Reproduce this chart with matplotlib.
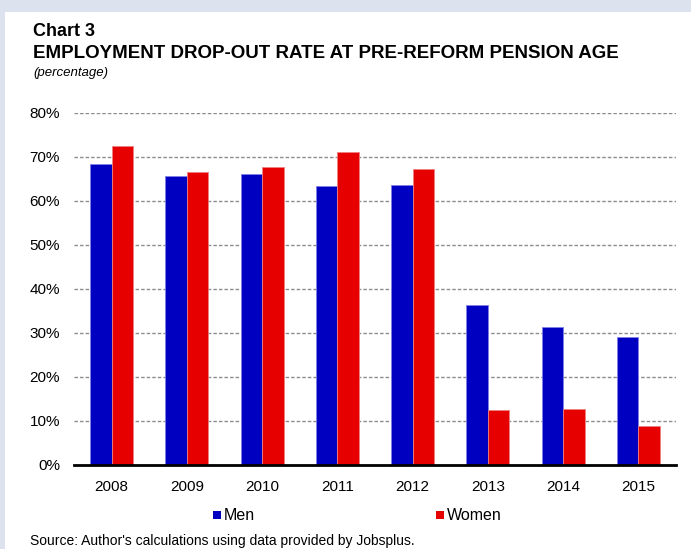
import matplotlib.pyplot as plt
import numpy as np
from matplotlib.patches import Rectangle

plt.rcParams['font.family'] = ['Liberation Sans', 'DejaVu Sans']

years = ['2008', '2009', '2010', '2011', '2012', '2013', '2014', '2015']
men = [68.3, 65.6, 66.1, 63.4, 63.6, 36.4, 31.4, 29.0]
women = [72.5, 66.6, 67.7, 71.1, 67.3, 12.5, 12.7, 8.9]

blue = '#0000c0'
red = '#e60000'

fig = plt.figure(figsize=(6.91, 5.49), dpi=100, facecolor='#dce3ef')
# white panel over the light blue frame
fig.patches.append(Rectangle((5 / 691, 0), 1, 1 - 12 / 549, transform=fig.transFigure,
                             facecolor='white', edgecolor='none', zorder=-10))

ax = fig.add_axes([74 / 691, 1 - 465 / 549, 602 / 691, 352 / 549])
ax.set_facecolor('none')

x = np.arange(len(years))
w = 0.285
ax.bar(x - w / 2, men, w, color=blue, edgecolor='#8080e8', linewidth=0.6, zorder=3)
ax.bar(x + w / 2, women, w, color=red, edgecolor='#f08080', linewidth=0.6, zorder=3)

ax.set_xlim(-0.5, len(years) - 0.5)
ax.set_ylim(0, 80)
ax.set_yticks(range(0, 81, 10))
ax.set_yticklabels([f'{v}%' for v in range(0, 81, 10)], fontsize=11)
ax.set_xticks(x)
ax.set_xticklabels(years, fontsize=11)
ax.tick_params(axis='y', length=0, pad=10)
ax.tick_params(axis='x', length=0, pad=11)

for v in range(10, 81, 10):
    ax.axhline(v, color='#8c8c8c', linestyle=(0, (2.5, 1.5)), linewidth=1, zorder=1)

for s in ['left', 'right', 'top']:
    ax.spines[s].set_visible(False)
ax.spines['bottom'].set_linewidth(2)
ax.spines['bottom'].set_zorder(4)

fig.text(33 / 691, 1 - 31 / 549, 'Chart 3', fontsize=13, fontweight='bold', va='center')
fig.text(33 / 691, 1 - 53 / 549, 'EMPLOYMENT DROP-OUT RATE AT PRE-REFORM PENSION AGE',
         fontsize=13.5, fontweight='bold', va='center')
fig.text(33 / 691, 1 - 73 / 549, '(percentage)', fontsize=9.5, style='italic', va='center')

# legend
for px, col, lab in [(213, blue, 'Men'), (436, red, 'Women')]:
    fig.patches.append(Rectangle((px / 691, 1 - 519 / 549), 8 / 691, 8 / 549,
                                 transform=fig.transFigure, facecolor=col, edgecolor='none'))
    fig.text((px + 11) / 691, 1 - 515 / 549, lab, fontsize=11.5, va='center')

fig.text(30 / 691, 1 - 541 / 549, "Source: Author's calculations using data provided by Jobsplus.",
         fontsize=10, va='center')

fig.savefig('out.png', dpi=100, facecolor=fig.get_facecolor())
